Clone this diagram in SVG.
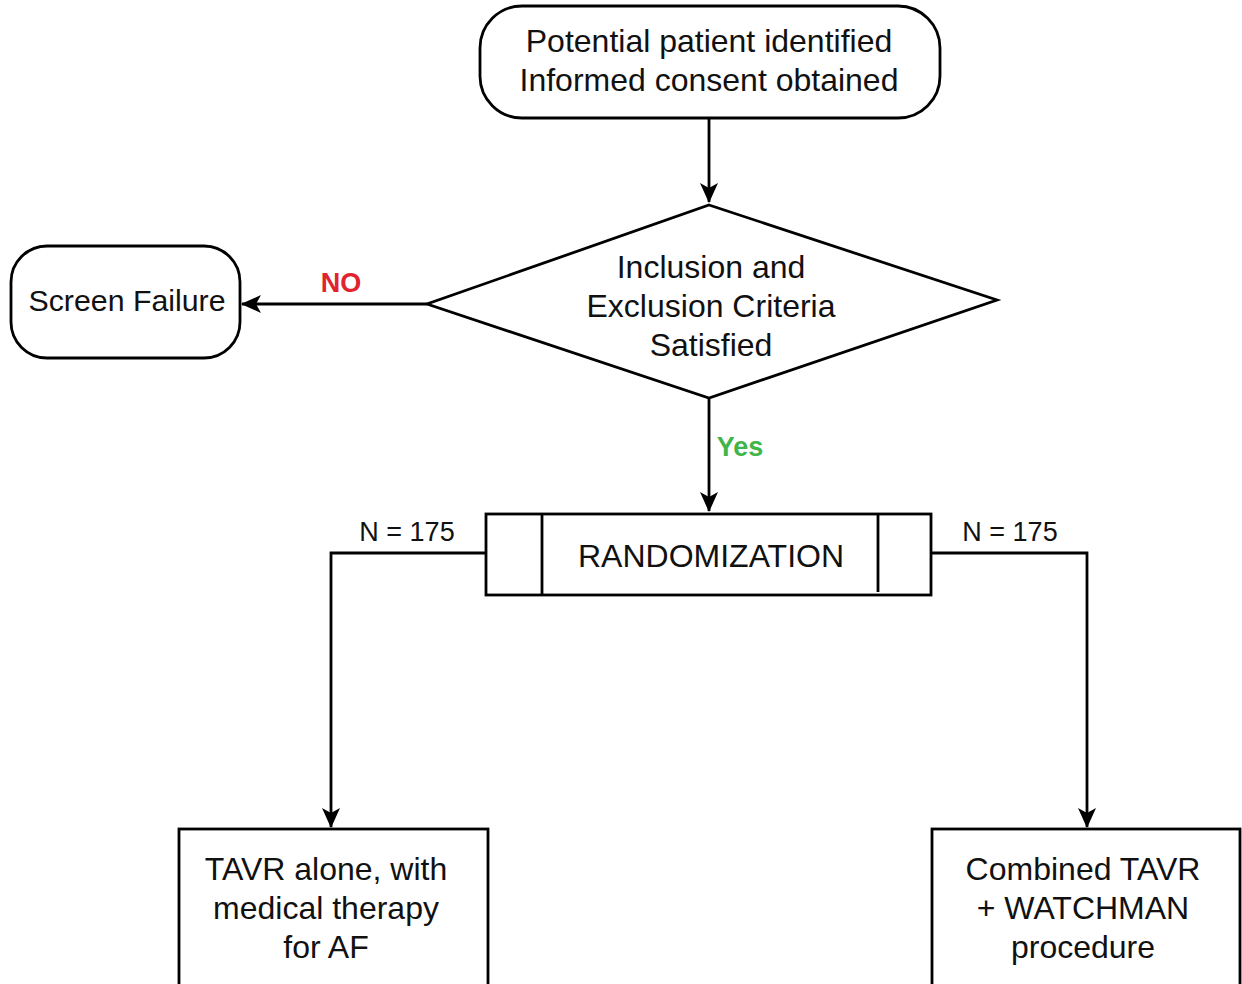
<svg xmlns="http://www.w3.org/2000/svg" width="1242" height="984" viewBox="0 0 1242 984">
<defs>
<style>
.n{fill:#fff;stroke:#000;stroke-width:2.8}
.t{font-family:"Liberation Sans",Arial,sans-serif;font-size:32px;fill:#111;text-anchor:middle}
.c{fill:none;stroke:#000;stroke-width:2.8}
.lab{font-family:"Liberation Sans",Arial,sans-serif;text-anchor:middle}
</style>
<marker id="ah" markerWidth="20" markerHeight="18" viewBox="0 0 20 18" refX="19" refY="9" orient="auto" markerUnits="userSpaceOnUse">
<path d="M0,0 L20,9 L0,18 L5,9 Z" fill="#000"/>
</marker>
</defs>
<rect width="1242" height="984" fill="#fff"/>
<g id="connectors">
<line class="c" x1="709" y1="118" x2="709" y2="202" marker-end="url(#ah)"/>
<line class="c" x1="427" y1="304" x2="242" y2="304" marker-end="url(#ah)"/>
<line class="c" x1="709" y1="398" x2="709" y2="511" marker-end="url(#ah)"/>
<polyline class="c" points="486,553 331,553 331,827" marker-end="url(#ah)"/>
<polyline class="c" points="931,553 1087,553 1087,827" marker-end="url(#ah)"/>
<text class="lab" x="341" y="292" font-size="27" font-weight="bold" fill="#e0232c">NO</text>
<text class="lab" x="740" y="456" font-size="27" font-weight="bold" fill="#3fb54a">Yes</text>
<text class="lab" x="407" y="541" font-size="27" fill="#111">N = 175</text>
<text class="lab" x="1010" y="541" font-size="27" fill="#111">N = 175</text>
</g>
<g id="start">
<rect class="n" x="480" y="6" width="460" height="112" rx="42" ry="42"/>
<text class="t" x="709" y="52">Potential patient identified</text>
<text class="t" x="709" y="91">Informed consent obtained</text>
</g>
<g id="criteria">
<polygon class="n" points="709,205 997,300 709,398 427,304"/>
<text class="t" x="711" y="278">Inclusion and</text>
<text class="t" x="711" y="317">Exclusion Criteria</text>
<text class="t" x="711" y="356">Satisfied</text>
</g>
<g id="screen-failure">
<rect class="n" x="11" y="246" width="229" height="112" rx="36" ry="36"/>
<text class="t" x="127" y="311" style="font-size:30.3px">Screen Failure</text>
</g>
<g id="randomization">
<rect class="n" x="486" y="514" width="445" height="81"/>
<line class="c" x1="542" y1="514" x2="542" y2="595"/>
<line class="c" x1="878" y1="514" x2="878" y2="592"/>
<text class="t" x="711" y="567">RANDOMIZATION</text>
</g>
<g id="tavr-alone">
<rect class="n" x="179" y="829" width="309" height="170"/>
<text class="t" x="326" y="880">TAVR alone, with</text>
<text class="t" x="326" y="919">medical therapy</text>
<text class="t" x="326" y="958">for AF</text>
</g>
<g id="tavr-watchman">
<rect class="n" x="932" y="829" width="308" height="170"/>
<text class="t" x="1083" y="880">Combined TAVR</text>
<text class="t" x="1083" y="919">+ WATCHMAN</text>
<text class="t" x="1083" y="958">procedure</text>
</g>
</svg>
